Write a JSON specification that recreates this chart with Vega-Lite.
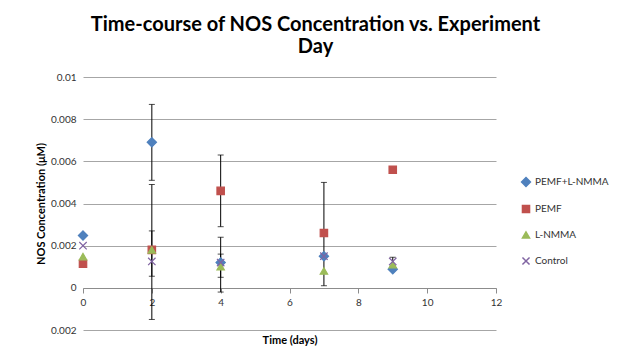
{
  "$schema": "https://vega.github.io/schema/vega-lite/v6.json",
  "width": 413,
  "height": 253,
  "padding": {"left": 35, "top": 15, "right": 5, "bottom": 5},
  "background": "white",
  "config": {
    "font": "Lato",
    "view": {"stroke": null},
    "axis": {"labelFont": "Lato", "titleFont": "Lato"}
  },
  "title": {
    "text": ["Time-course of NOS Concentration vs. Experiment", "Day"],
    "font": "Lato",
    "fontSize": 20,
    "fontWeight": "bold",
    "lineHeight": 22,
    "color": "#000000",
    "anchor": "middle",
    "dx": 26,
    "offset": 15
  },
  "datasets": {
    "points": [
      {"series": "PEMF+L-NMMA", "day": 0, "nos": 0.00248},
      {"series": "PEMF+L-NMMA", "day": 2, "nos": 0.0069},
      {"series": "PEMF+L-NMMA", "day": 4, "nos": 0.0012},
      {"series": "PEMF+L-NMMA", "day": 7, "nos": 0.0015},
      {"series": "PEMF+L-NMMA", "day": 9, "nos": 0.00088},
      {"series": "PEMF", "day": 0, "nos": 0.00114},
      {"series": "PEMF", "day": 2, "nos": 0.0018},
      {"series": "PEMF", "day": 4, "nos": 0.0046},
      {"series": "PEMF", "day": 7, "nos": 0.0026},
      {"series": "PEMF", "day": 9, "nos": 0.0056},
      {"series": "L-NMMA", "day": 0, "nos": 0.00148},
      {"series": "L-NMMA", "day": 2, "nos": 0.0018},
      {"series": "L-NMMA", "day": 4, "nos": 0.001},
      {"series": "L-NMMA", "day": 7, "nos": 0.0008},
      {"series": "L-NMMA", "day": 9, "nos": 0.0011},
      {"series": "Control", "day": 0, "nos": 0.002},
      {"series": "Control", "day": 2, "nos": 0.00125},
      {"series": "Control", "day": 4, "nos": 0.0012},
      {"series": "Control", "day": 7, "nos": 0.0015},
      {"series": "Control", "day": 9, "nos": 0.00125}
    ],
    "errors": [
      {"series": "PEMF+L-NMMA", "day": 2, "lo": 0.0051, "hi": 0.0087},
      {"series": "PEMF", "day": 2, "lo": -0.0015, "hi": 0.0049},
      {"series": "L-NMMA", "day": 2, "lo": 0.00055, "hi": 0.0027},
      {"series": "PEMF", "day": 4, "lo": 0.0029, "hi": 0.0063},
      {"series": "PEMF+L-NMMA", "day": 4, "lo": -0.0002, "hi": 0.0024},
      {"series": "L-NMMA", "day": 4, "lo": 0.0005, "hi": 0.0016},
      {"series": "PEMF", "day": 7, "lo": 0.0001, "hi": 0.005},
      {"series": "Control", "day": 9, "lo": 0.00105, "hi": 0.00145}
    ]
  },
  "encoding": {
    "x": {
      "field": "day",
      "type": "quantitative",
      "scale": {"domain": [0, 12], "nice": false, "zero": false},
      "axis": {
        "title": "Time (days)",
        "titleFontSize": 11,
        "titleFontWeight": "bold",
        "titleColor": "#000000",
        "titleY": 52,
        "titleBaseline": "middle",
        "offset": -42,
        "values": [0, 2, 4, 6, 8, 10, 12],
        "labelFlush": false,
        "grid": false,
        "domainColor": "#8c8c8c",
        "tickColor": "#8c8c8c",
        "tickSize": 5,
        "labelFontSize": 10,
        "labelColor": "#333333",
        "labelPadding": 4
      }
    }
  },
  "layer": [
    {
      "data": {"name": "errors"},
      "mark": {"type": "rule", "color": "#000000", "strokeWidth": 1},
      "encoding": {
        "y": {"field": "lo", "type": "quantitative"},
        "y2": {"field": "hi"}
      }
    },
    {
      "data": {"name": "errors"},
      "mark": {"type": "tick", "orient": "horizontal", "color": "#000000", "thickness": 1, "size": 6},
      "encoding": {"y": {"field": "lo", "type": "quantitative"}}
    },
    {
      "data": {"name": "errors"},
      "mark": {"type": "tick", "orient": "horizontal", "color": "#000000", "thickness": 1, "size": 6},
      "encoding": {"y": {"field": "hi", "type": "quantitative"}}
    },
    {
      "data": {"name": "points"},
      "mark": {"type": "point", "filled": true, "opacity": 1, "strokeWidth": 1.2},
      "encoding": {
        "y": {
          "field": "nos",
          "type": "quantitative",
          "scale": {"domain": [-0.002, 0.01], "nice": false, "zero": false},
          "axis": {
            "title": "NOS Concentration (μM)",
            "titleFontSize": 11,
            "titleFontWeight": "bold",
            "titleColor": "#000000",
            "titlePadding": 4,
            "values": [-0.002, 0, 0.002, 0.004, 0.006, 0.008, 0.01],
            "labelExpr": "format(abs(datum.value), '~g')",
            "domain": false,
            "ticks": false,
            "grid": true,
            "gridColor": "#a6a6a6",
            "gridWidth": 1,
            "labelFontSize": 10,
            "labelColor": "#333333",
            "labelPadding": 7
          }
        },
        "fill": {
          "field": "series",
          "type": "nominal",
          "scale": {"domain": ["PEMF+L-NMMA", "PEMF", "L-NMMA", "Control"], "range": ["#4f81bd", "#c0504d", "#9bbb59", "#8064a2"]},
          "legend": {
            "title": null,
            "orient": "none",
            "legendX": 438,
            "legendY": 100,
            "labelFontSize": 10,
            "labelColor": "#333333",
            "rowPadding": 12,
            "symbolSize": 50,
            "labelOffset": 4
          }
        },
        "stroke": {
          "field": "series",
          "type": "nominal",
          "scale": {"domain": ["PEMF+L-NMMA", "PEMF", "L-NMMA", "Control"], "range": ["#4f81bd", "#c0504d", "#9bbb59", "#8064a2"]},
          "legend": {
            "title": null,
            "orient": "none",
            "legendX": 438,
            "legendY": 100,
            "labelFontSize": 10,
            "labelColor": "#333333",
            "rowPadding": 12,
            "symbolSize": 50,
            "labelOffset": 4
          }
        },
        "shape": {
          "field": "series",
          "type": "nominal",
          "scale": {"domain": ["PEMF+L-NMMA", "PEMF", "L-NMMA", "Control"], "range": ["M0,-1.25L1.25,0L0,1.25L-1.25,0Z", "square", "triangle-up", "M-1,-1L1,1M-1,1L1,-1"]},
          "legend": {
            "title": null,
            "orient": "none",
            "legendX": 438,
            "legendY": 100,
            "labelFontSize": 10,
            "labelColor": "#333333",
            "rowPadding": 12,
            "symbolSize": 50,
            "labelOffset": 4
          }
        },
        "size": {"value": 55}
      }
    }
  ]
}
